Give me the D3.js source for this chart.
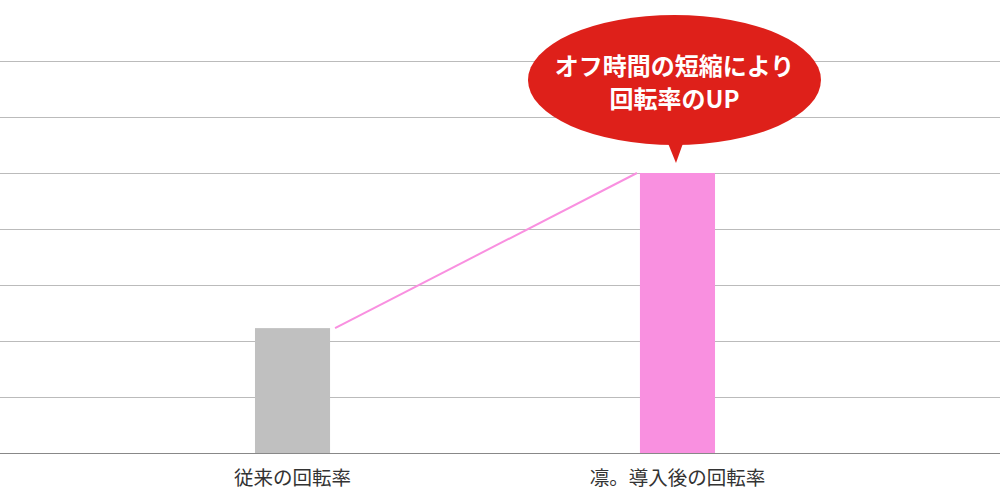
<!DOCTYPE html>
<html>
<head>
<meta charset="utf-8">
<script src="https://cdn.jsdelivr.net/npm/d3@7"></script>
<style>
  body { margin: 0; background: #fff; }
  svg { display: block; font-family: "Noto Sans CJK JP", "Noto Sans", sans-serif; }
</style>
</head>
<body>
<div id="chart"></div>
<script>
// Data
const categories = ["従来の回転率", "凛。導入後の回転率"];
const values = [2.23, 5.0];
const barColors = ["#c0c0c0", "#f990e0"];
const gridTicks = [1, 2, 3, 4, 5, 6, 7];
const calloutLines = ["オフ時間の短縮により", "回転率のUP"];

const width = 1000;
const height = 500;
const margin = { top: 5, right: 0, bottom: 47, left: 0 };

const svg = d3.select("#chart")
  .append("svg")
  .attr("width", width)
  .attr("height", height);

// Scales
const x = d3.scaleBand()
  .domain(categories)
  .range([100, 870])
  .paddingInner(0.805)
  .paddingOuter(0.4026);

const y = d3.scaleLinear()
  .domain([0, 8])
  .range([height - margin.bottom, margin.top]);

// Gridlines
svg.append("g")
  .selectAll("line")
  .data(gridTicks)
  .enter()
  .append("line")
  .attr("x1", 0)
  .attr("x2", width)
  .attr("y1", d => Math.round(y(d)) + 0.5)
  .attr("y2", d => Math.round(y(d)) + 0.5)
  .attr("stroke", "#bbbbbb")
  .attr("stroke-width", 1);

// Bars
svg.append("g")
  .selectAll("rect")
  .data(values)
  .enter()
  .append("rect")
  .attr("x", (d, i) => x(categories[i]))
  .attr("y", d => y(d))
  .attr("width", x.bandwidth())
  .attr("height", d => y(0) - y(d))
  .attr("fill", (d, i) => barColors[i]);

// Baseline
svg.append("line")
  .attr("x1", 0)
  .attr("x2", width)
  .attr("y1", Math.round(y(0)) + 0.5)
  .attr("y2", Math.round(y(0)) + 0.5)
  .attr("stroke", "#888888")
  .attr("stroke-width", 1);

// Connector line between bar tops
svg.append("line")
  .attr("x1", x(categories[0]) + x.bandwidth() + 5)
  .attr("y1", y(values[0]))
  .attr("x2", x(categories[1]) - 3)
  .attr("y2", y(values[1]))
  .attr("stroke", "#f990e0")
  .attr("stroke-width", 2);

// Category labels
svg.append("g")
  .selectAll("text")
  .data(categories)
  .enter()
  .append("text")
  .attr("x", d => x(d) + x.bandwidth() / 2)
  .attr("y", y(0) + 32)
  .attr("text-anchor", "middle")
  .attr("fill", "#333333")
  .style("font-size", "19.5px")
  .text(d => d);

// Callout bubble above the second bar
const cx = x(categories[1]) + x.bandwidth() / 2 - 3;
const bubbleBottom = y(values[1]) - 28;
const ry = 65;
const rx = 146.5;
const cy = bubbleBottom - ry;

const callout = svg.append("g");
callout.append("ellipse")
  .attr("cx", cx)
  .attr("cy", cy)
  .attr("rx", rx)
  .attr("ry", ry)
  .attr("fill", "#de201a");

callout.append("path")
  .attr("d", `M${cx - 7},${bubbleBottom - 3} L${cx + 1.5},${y(values[1]) - 10} L${cx + 9},${bubbleBottom - 3} Z`)
  .attr("fill", "#de201a");

callout.selectAll("text")
  .data(calloutLines)
  .enter()
  .append("text")
  .attr("x", cx)
  .attr("y", (d, i) => cy - 16 + i * 33)
  .attr("text-anchor", "middle")
  .attr("dominant-baseline", "central")
  .attr("fill", "#ffffff")
  .style("font-size", "24px")
  .style("font-weight", "bold")
  .text(d => d);
</script>
</body>
</html>
